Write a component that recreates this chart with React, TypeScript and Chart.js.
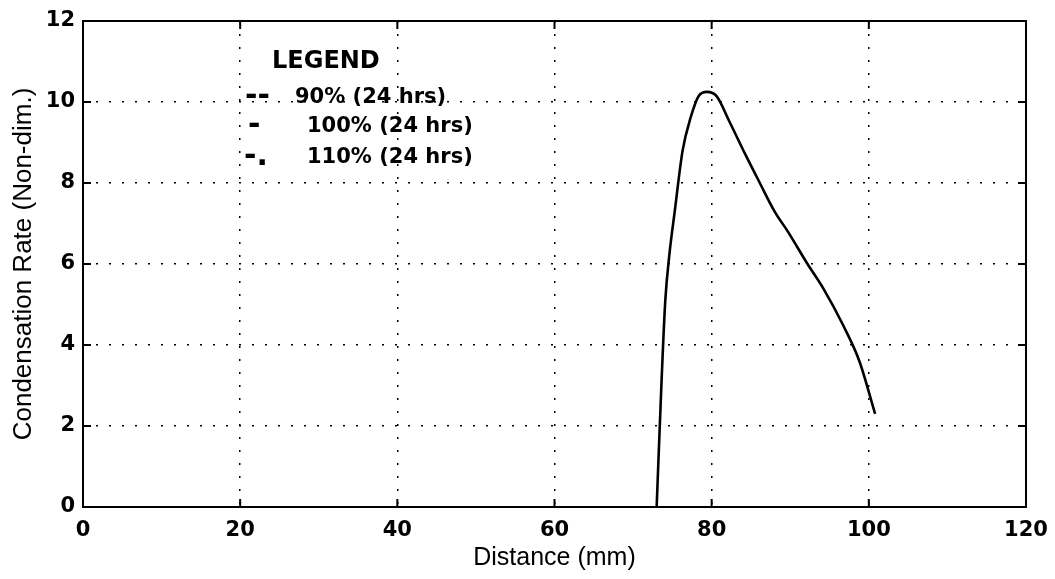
import React, { useEffect, useRef } from "react";
import { Chart, registerables } from "chart.js";

Chart.register(...registerables);

// ---- data ----
const distanceMm = [73.0, 73.6, 74.1, 74.6, 75.3, 76.3, 77.3, 78.35, 79.4, 80.6, 82.3, 84.3, 86.0, 88.0, 89.7, 92.2, 94.2, 96.7, 98.8, 100.8];
const condensationRate = [0, 3.0, 5.1, 6.2, 7.3, 8.8, 9.6, 10.15, 10.25, 10.15, 9.5, 8.7, 8.05, 7.3, 6.8, 6.0, 5.4, 4.5, 3.6, 2.3];

const xTickValues = [0, 20, 40, 60, 80, 100, 120];
const yTickValues = [0, 2, 4, 6, 8, 10, 12];

const xAxisTitle = "Distance (mm)";
const yAxisTitle = "Condensation Rate (Non-dim.)";

const legendTitle = "LEGEND";
const legendMarkers = ["--", "-", "-."];
const legendLabels = ["90% (24 hrs)", "100% (24 hrs)", "110% (24 hrs)"];

const TICK_FONT = { family: "'DejaVu Sans', sans-serif", size: 21, weight: "bold" as const };
const X_TITLE_FONT = { family: "'Liberation Sans', Arial, sans-serif", size: 25, weight: "normal" as const };
const Y_TITLE_FONT = { family: "'Liberation Sans', Arial, sans-serif", size: 26, weight: "normal" as const };

const framePlugin = {
  id: "frameAndInwardTicks",
  afterDraw(chart: any) {
    const { ctx, chartArea } = chart;
    const { left, right, top, bottom } = chartArea;
    ctx.save();
    ctx.strokeStyle = "#000";
    ctx.lineWidth = 2;
    ctx.strokeRect(left, top, right - left, bottom - top);
    const len = 8;
    const xs = chart.scales.x;
    const ys = chart.scales.y;
    ctx.beginPath();
    xTickValues.forEach((v) => {
      const px = xs.getPixelForValue(v);
      ctx.moveTo(px, bottom);
      ctx.lineTo(px, bottom - len);
      ctx.moveTo(px, top);
      ctx.lineTo(px, top + len);
    });
    yTickValues.forEach((v) => {
      const py = ys.getPixelForValue(v);
      ctx.moveTo(left, py);
      ctx.lineTo(left + len, py);
      ctx.moveTo(right, py);
      ctx.lineTo(right - len, py);
    });
    ctx.stroke();
    ctx.restore();
  },
};

const legendPlugin = {
  id: "textLegend",
  afterDatasetsDraw(chart: any) {
    const { ctx, chartArea } = chart;
    const L = chartArea.left;
    ctx.save();
    ctx.fillStyle = "#000";
    ctx.textBaseline = "middle";
    ctx.textAlign = "left";
    ctx.font = "bold 24px 'DejaVu Sans', sans-serif";
    ctx.fillText(legendTitle, L + 189, 62);
    const rowY = [98, 127, 158];
    const markerX = [162, 165, 161];
    const labelX = [212, 224, 224];
    legendLabels.forEach((label, i) => {
      ctx.font = "bold 30px 'DejaVu Sans', sans-serif";
      ctx.fillText(legendMarkers[i], L + markerX[i], rowY[i] - 1);
      ctx.font = "bold 21px 'DejaVu Sans', sans-serif";
      ctx.fillText(label, L + labelX[i], rowY[i]);
    });
    ctx.restore();
  },
};

export default function App() {
  const canvasRef = useRef<HTMLCanvasElement | null>(null);

  useEffect(() => {
    document.body.style.margin = "0";
    const canvas = canvasRef.current;
    if (!canvas) return;
    Chart.defaults.color = "#000";
    const chart = new Chart(canvas, {
      type: "line",
      data: {
        datasets: [
          {
            label: legendLabels[0],
            data: distanceMm.map((x, i) => ({ x, y: condensationRate[i] })),
            borderColor: "#000",
            borderWidth: 2.6,
            pointRadius: 0,
            fill: false,
            cubicInterpolationMode: "monotone",
          },
        ],
      },
      options: {
        animation: false,
        responsive: true,
        maintainAspectRatio: false,
        layout: { padding: { top: 21, right: 29, left: 0, bottom: 0 } },
        plugins: { legend: { display: false }, tooltip: { enabled: false } },
        scales: {
          x: {
            type: "linear",
            min: 0,
            max: 120,
            afterFit(scale: any) {
              scale.height = 72;
              scale.paddingLeft = 0;
              scale.paddingRight = 0;
            },
            afterBuildTicks(scale: any) {
              scale.ticks = xTickValues.map((v) => ({ value: v }));
            },
            ticks: { font: TICK_FONT, padding: 11, color: "#000", maxRotation: 0 },
            grid: { color: "#000", lineWidth: 1.5, drawTicks: false },
            border: { display: false, dash: [2, 11] },
            title: { display: true, text: xAxisTitle, font: X_TITLE_FONT, color: "#000", padding: { top: 0, bottom: 6 } },
          },
          y: {
            type: "linear",
            min: 0,
            max: 12,
            afterFit(scale: any) {
              scale.width = 83;
              scale.paddingTop = 0;
              scale.paddingBottom = 0;
            },
            afterBuildTicks(scale: any) {
              scale.ticks = yTickValues.map((v) => ({ value: v }));
            },
            ticks: { font: TICK_FONT, padding: 8, color: "#000" },
            grid: { color: "#000", lineWidth: 1.5, drawTicks: false },
            border: { display: false, dash: [2, 11] },
            title: { display: true, text: yAxisTitle, font: Y_TITLE_FONT, color: "#000", padding: { top: 8, bottom: 0 } },
          },
        },
      },
      plugins: [framePlugin, legendPlugin],
    } as any);
    return () => chart.destroy();
  }, []);

  return (
    <div style={{ position: "relative", width: 1055, height: 579, background: "#fff" }}>
      <canvas ref={canvasRef} />
    </div>
  );
}
